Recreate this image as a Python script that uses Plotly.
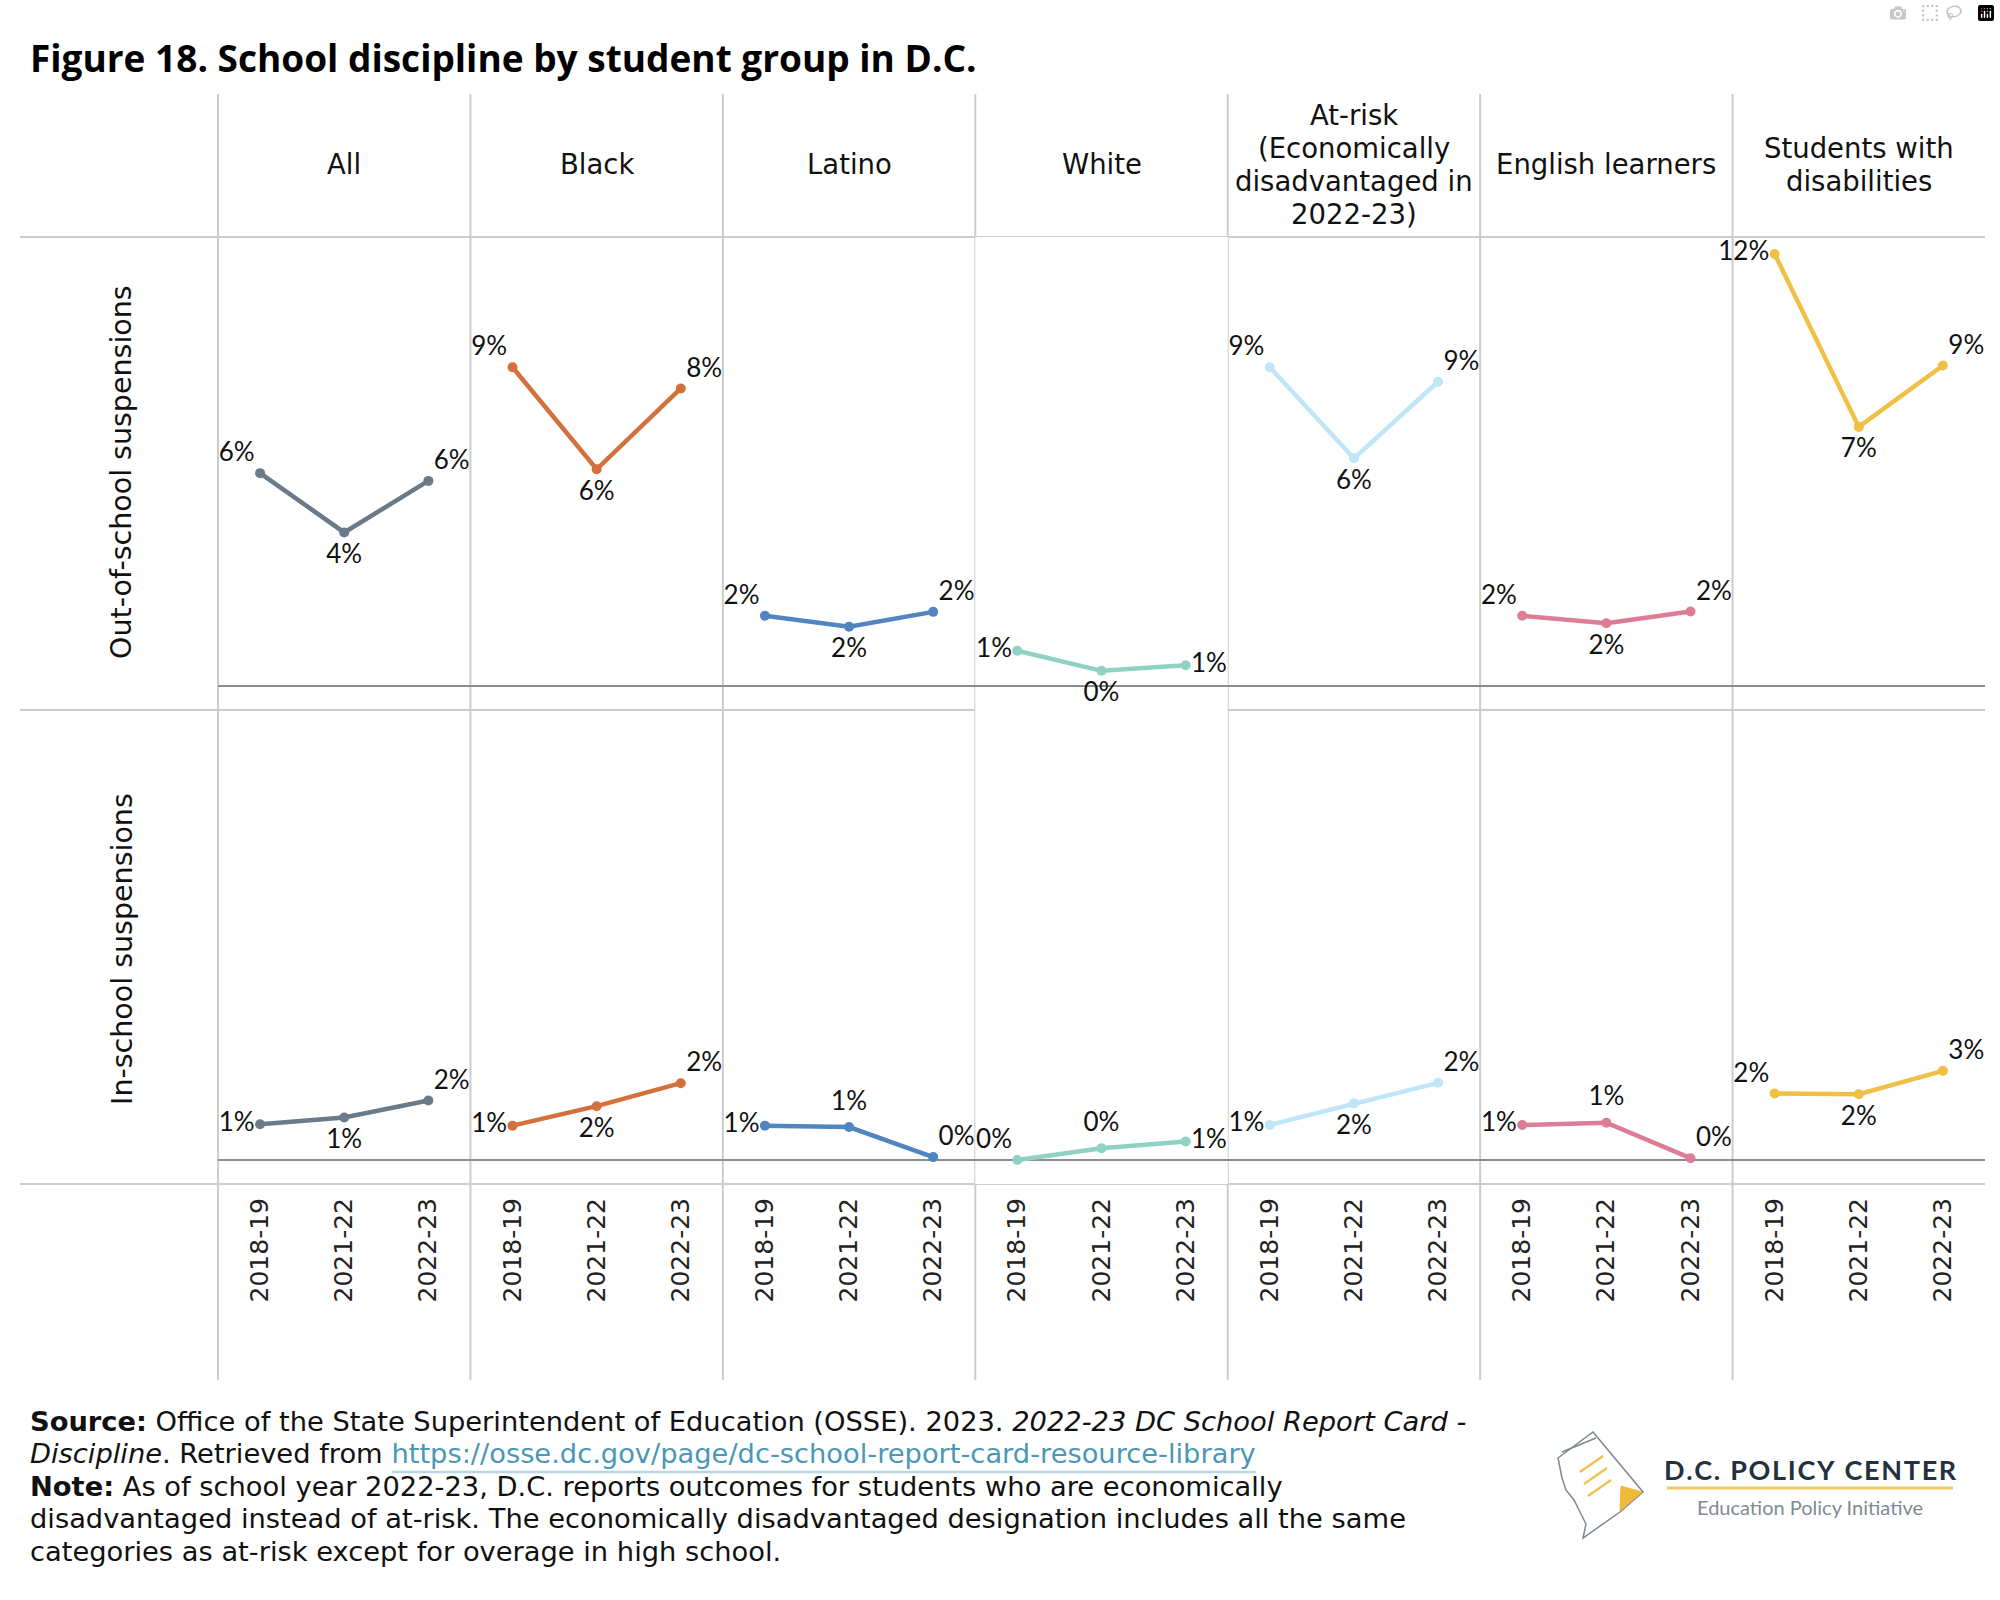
import plotly.graph_objects as go
from plotly.subplots import make_subplots

W, H = 2000, 1600

# ---------------- data ----------------
years = ["2018-19", "2021-22", "2022-23"]
group_headers = ["All", "Black", "Latino", "White",
                 "At-risk<br>(Economically<br>disadvantaged in<br>2022-23)",
                 "English learners", "Students with<br>disabilities"]
row_titles = ["Out-of-school suspensions", "In-school suspensions"]
colors = ["#6b7a89", "#d4703c", "#5085c0", "#8fd2c3", "#bfe5f8", "#dd7c95", "#f0c045"]

# Out-of-school suspension rates (%)
oss_all = [6.03, 4.35, 5.81]
oss_black = [9.03, 6.14, 8.43]
oss_latino = [1.99, 1.68, 2.10]
oss_white = [1.00, 0.43, 0.59]
oss_atrisk = [9.03, 6.45, 8.62]
oss_el = [1.99, 1.78, 2.11]
oss_swd = [12.24, 7.34, 9.08]

# In-school suspension rates (%)
iss_all = [1.01, 1.20, 1.68]
iss_black = [0.97, 1.52, 2.17]
iss_latino = [0.97, 0.93, 0.08]
iss_white = [0.00, 0.33, 0.52]
iss_atrisk = [0.99, 1.60, 2.18]
iss_el = [0.99, 1.05, 0.05]
iss_swd = [1.88, 1.86, 2.52]

oss_series = [oss_all, oss_black, oss_latino, oss_white, oss_atrisk, oss_el, oss_swd]
iss_series = [iss_all, iss_black, iss_latino, iss_white, iss_atrisk, iss_el, iss_swd]

# label placement (style)
pos_oss = [
    ["top left", "bottom center", "top right"],
    ["top left", "bottom center", "top right"],
    ["top left", "bottom center", "top right"],
    ["middle left", "bottom center", "middle right"],
    ["top left", "bottom center", "top right"],
    ["top left", "bottom center", "top right"],
    ["middle left", "bottom center", "top right"],
]
pos_iss = [
    ["middle left", "bottom center", "top right"],
    ["middle left", "bottom center", "top right"],
    ["middle left", "top center", "top right"],
    ["top left", "top center", "middle right"],
    ["middle left", "bottom center", "top right"],
    ["middle left", "top center", "top right"],
    ["top left", "bottom center", "top right"],
]
# invisible marker size per label position -> controls label distance from point
label_gap = {"top left": 7, "top right": 7, "middle left": 7, "middle right": 7,
             "top center": 16, "bottom center": 16}

# ---------------- layout geometry (pixels) ----------------
LEFT, RIGHT = 218, 1985
NCOL = 7
CW = (RIGHT - LEFT) / NCOL
HEAD_TOP, HEAD_BOT, ROW_MID, ROW_BOT, AX_BOT = 94, 237, 710, 1184, 1380
YR = [-0.68, 12.72]


def px(x):
    return x / W


def py(y):
    return 1 - y / H


fig = make_subplots(rows=2, cols=NCOL, horizontal_spacing=0, vertical_spacing=0)

label_font = dict(family="Lato", size=26, color="#111111")

for r, (series, positions) in enumerate([(oss_series, pos_oss), (iss_series, pos_iss)]):
    for c in range(NCOL):
        vals = series[c]
        fig.add_trace(go.Scatter(
            x=years, y=vals, mode="lines+markers",
            line=dict(color=colors[c], width=4.5),
            marker=dict(color=colors[c], size=10, line=dict(width=0)),
            cliponaxis=False, showlegend=False, hoverinfo="skip",
        ), row=r + 1, col=c + 1)
        fig.add_trace(go.Scatter(
            x=years, y=vals, mode="markers+text",
            text=[f"{round(v)}%" for v in vals],
            textposition=positions[c],
            textfont=label_font,
            marker=dict(color="rgba(0,0,0,0)", size=[label_gap[p] for p in positions[c]],
                        opacity=0, line=dict(width=0, color="rgba(0,0,0,0)")),
            cliponaxis=False, showlegend=False, hoverinfo="skip",
        ), row=r + 1, col=c + 1)

for r in range(2):
    for c in range(NCOL):
        idx = r * NCOL + c + 1
        xa = "xaxis" if idx == 1 else f"xaxis{idx}"
        ya = "yaxis" if idx == 1 else f"yaxis{idx}"
        x0 = LEFT + c * CW
        x1 = x0 + CW
        if r == 0:
            yd = [py(ROW_MID), py(HEAD_BOT)]
        else:
            yd = [py(ROW_BOT), py(ROW_MID)]
        fig.layout[xa].update(
            domain=[px(x0), px(x1)], type="category", categoryorder="array",
            categoryarray=years, range=[-0.5, 2.5], showgrid=False, zeroline=False,
            showline=False, ticks="", showticklabels=(r == 1), tickangle=-90,
            tickfont=dict(family="DejaVu Sans", size=25, color="#222222"),
            ticklabelstandoff=8, fixedrange=True,
        )
        fig.layout[ya].update(
            domain=yd, range=YR, showgrid=False, showticklabels=False, ticks="",
            zeroline=True, zerolinecolor="#8c8c8c", zerolinewidth=2,
            showline=False, fixedrange=True,
        )

shapes = []
grid = dict(color="#cccccc", width=2)
for i in range(NCOL):
    x = LEFT + i * CW
    shapes.append(dict(type="line", xref="paper", yref="paper",
                       x0=px(x), x1=px(x), y0=py(HEAD_TOP), y1=py(AX_BOT), line=grid, layer="below"))
for y in [HEAD_BOT, ROW_MID, ROW_BOT]:
    shapes.append(dict(type="line", xref="paper", yref="paper",
                       x0=px(20), x1=px(RIGHT), y0=py(y), y1=py(y), line=grid, layer="below"))

annotations = []
# title
annotations.append(dict(text="<b>Figure 18. School discipline by student group in D.C.</b>",
                        x=px(28), y=py(57), xref="paper", yref="paper", xanchor="left",
                        yanchor="middle", showarrow=False,
                        font=dict(family="Open Sans", size=37, color="#000000")))
# column headers (one annotation per line for tight line spacing)
HEAD_C, HEAD_LS = 164.5, 33
for c, h in enumerate(group_headers):
    lines = h.split("<br>")
    n = len(lines)
    for k, line in enumerate(lines):
        yk = HEAD_C + (k - (n - 1) / 2) * HEAD_LS
        annotations.append(dict(text=line, x=px(LEFT + (c + 0.5) * CW), y=py(yk), xref="paper",
                                yref="paper", xanchor="center", yanchor="middle", showarrow=False,
                                font=dict(family="DejaVu Sans", size=27.5, color="#111111")))
# row titles
for yc, t in zip([472, 949], row_titles):
    annotations.append(dict(text=t, x=px(122), y=py(yc), xref="paper", yref="paper",
                            xanchor="center", yanchor="middle", textangle=-90, showarrow=False,
                            font=dict(family="DejaVu Sans", size=28.5, color="#111111")))

# footer
footer_lines = [
    "<b>Source:</b> Office of the State Superintendent of Education (OSSE). 2023. <i>2022-23 DC School Report Card -</i>",
    "<i>Discipline</i>. Retrieved from <span style='color:#4a97b6'>https://osse.dc.gov/page/dc-school-report-card-resource-library</span>",
    "<b>Note:</b> As of school year 2022-23, D.C. reports outcomes for students who are economically",
    "disadvantaged instead of at-risk. The economically disadvantaged designation includes all the same",
    "categories as at-risk except for overage in high school.",
]
for i, t in enumerate(footer_lines):
    annotations.append(dict(text=t, x=px(28), y=py(1421 + i * 32.5), xref="paper", yref="paper",
                            xanchor="left", yanchor="middle", showarrow=False,
                            font=dict(family="DejaVu Sans", size=27.3, color="#111111")))
shapes.append(dict(type="line", xref="paper", yref="paper", x0=px(392), x1=px(1256),
                   y0=py(1472), y1=py(1472), line=dict(color="#b9d7e3", width=2.5)))

# logo
def path(pts):
    return "M " + " L ".join(f"{px(a):.5f},{py(b):.5f}" for a, b in pts) + " Z"

shapes.append(dict(type="path", xref="paper", yref="paper",
                   path=path([(1593, 1432), (1643, 1492), (1620, 1512), (1583, 1538), (1586, 1524),
                              (1579, 1510), (1574, 1500), (1566, 1490), (1562, 1478), (1558, 1458)]),
                   line=dict(color="#7d8792", width=1.5), fillcolor="rgba(0,0,0,0)"))
shapes.append(dict(type="line", xref="paper", yref="paper", x0=px(1562), y0=py(1452),
                   x1=px(1596), y1=py(1438), line=dict(color="#7d8792", width=1.5)))
for k in range(3):
    shapes.append(dict(type="line", xref="paper", yref="paper",
                       x0=px(1580 + k * 4), y0=py(1472 + k * 12), x1=px(1603 + k * 4),
                       y1=py(1456 + k * 12), line=dict(color="#f2c14e", width=2.5)))
shapes.append(dict(type="path", xref="paper", yref="paper",
                   path=path([(1621, 1486), (1642, 1492), (1620, 1511)]),
                   line=dict(color="#f0b93a", width=1), fillcolor="#f0b93a"))
logo_title = "\u200a".join("D.C. POLICY CENTER")
annotations.append(dict(text=f"<b>{logo_title}</b>", x=px(1810), y=py(1469), xref="paper",
                        yref="paper", xanchor="center", yanchor="middle", showarrow=False,
                        font=dict(family="Lato", size=27, color="#22313f")))
shapes.append(dict(type="line", xref="paper", yref="paper", x0=px(1667), x1=px(1953),
                   y0=py(1488), y1=py(1488), line=dict(color="#f2ca63", width=3)))
annotations.append(dict(text="Education Policy Initiative", x=px(1810), y=py(1507), xref="paper",
                        yref="paper", xanchor="center", yanchor="middle", showarrow=False,
                        font=dict(family="Lato", size=20, color="#7f8a95")))

fig.update_layout(
    width=W, height=H, autosize=False,
    margin=dict(l=0, r=0, t=0, b=0, pad=0),
    paper_bgcolor="white", plot_bgcolor="white",
    font=dict(family="Lato", color="#111111"),
    shapes=shapes, annotations=annotations, showlegend=False,
)

fig.write_html("out.html", post_script="document.body.style.margin='0';")
